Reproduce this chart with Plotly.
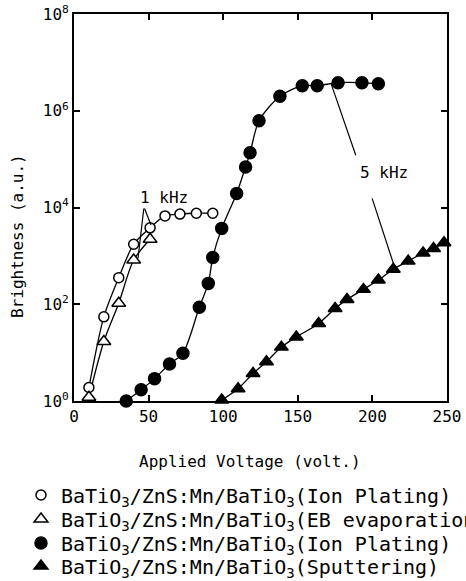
import plotly.graph_objects as go

FONT = "DejaVu Sans Mono"

# ---- data ----
ip1k_x = [10, 20, 30, 40, 51, 61, 71, 82, 93]
ip1k_y = [1.9, 55, 355, 1740, 3800, 6700, 7300, 7600, 7600]

eb1k_x = [10, 20, 30, 40, 51]
eb1k_y = [1.2, 17, 105, 820, 2200]

ip5k_x = [35, 45, 54, 64, 73, 84, 90, 93, 99, 109, 115, 118, 124, 138, 153, 163, 177, 193, 204]
ip5k_y = [1.0, 1.7, 2.9, 5.8, 9.7, 87, 270, 930, 3700, 19500, 69000, 135000, 620000,
          2.0e6, 3.3e6, 3.3e6, 3.8e6, 3.8e6, 3.6e6]

sp5k_x = [99, 110, 120, 129, 139, 149, 164, 175, 183, 194, 204, 214, 224, 234, 241, 248]
sp5k_y = [1.05, 1.8, 3.7, 6.5, 13, 21, 40, 82, 126, 203, 316, 530, 780, 1150, 1420, 1870]

x_ticks = [0, 50, 100, 150, 200, 250]
y_tickvals = [1, 1e2, 1e4, 1e6, 1e8]
y_ticktext = ["10<sup>0</sup>", "10<sup>2</sup>", "10<sup>4</sup>", "10<sup>6</sup>", "10<sup>8</sup>"]

names = [
    "BaTiO<sub>3</sub>/ZnS:Mn/BaTiO<sub>3</sub>(Ion Plating)",
    "BaTiO<sub>3</sub>/ZnS:Mn/BaTiO<sub>3</sub>(EB evaporation)",
    "BaTiO<sub>3</sub>/ZnS:Mn/BaTiO<sub>3</sub>(Ion Plating)",
    "BaTiO<sub>3</sub>/ZnS:Mn/BaTiO<sub>3</sub>(Sputtering)",
]

fig = go.Figure()

series = [
    (ip1k_x, ip1k_y, "circle", "white", 10, names[0], "legend"),
    (eb1k_x, eb1k_y, "triangle-up", "white", 12, names[1], "legend2"),
    (ip5k_x, ip5k_y, "circle", "black", 12, names[2], "legend3"),
    (sp5k_x, sp5k_y, "triangle-up", "black", 12, names[3], "legend4"),
]

for x, y, sym, fill, size, name, lg in series:
    fig.add_trace(go.Scatter(
        x=x, y=y, mode="lines",
        line=dict(color="black", width=1.3, shape="spline", smoothing=0.8),
        showlegend=False, hoverinfo="skip"))
for x, y, sym, fill, size, name, lg in series:
    fig.add_trace(go.Scatter(
        x=x, y=y, mode="markers", name=name, legend=lg, cliponaxis=False,
        marker=dict(symbol=sym, size=size, color=fill,
                    line=dict(color="black", width=1.5))))

# plot area: x 74..447 px, y 14..401 px
W, H = 466, 581
L, R, T, B = 74, 466 - 447, 14, 581 - 401
pw, ph = W - L - R, H - T - B

def px2paper_x(px):
    return (px - L) / pw

def py2paper_y(py):
    return (H - B - py) / ph

legend_rows = [495, 519, 543, 566]
legend_style = dict(
    xanchor="left", yanchor="middle", x=px2paper_x(21),
    font=dict(family=FONT, size=20, color="black"),
    bgcolor="rgba(0,0,0,0)", borderwidth=0, itemwidth=30,
)
layout_legends = {}
for i, key in enumerate(["legend", "legend2", "legend3", "legend4"]):
    layout_legends[key] = dict(legend_style, y=py2paper_y(legend_rows[i]))

axis_common = dict(
    showline=True, linewidth=2, linecolor="black", mirror="ticks",
    ticks="inside", ticklen=6, tickwidth=1.5, tickcolor="black",
    showgrid=False, zeroline=False,
    tickfont=dict(family=FONT, size=16, color="black"),
)

fig.update_layout(
    width=W, height=H,
    margin=dict(l=L, r=R, t=T, b=B, autoexpand=False),
    paper_bgcolor="white", plot_bgcolor="white",
    xaxis=dict(axis_common, range=[0, 250], tickvals=x_ticks),
    yaxis=dict(axis_common, type="log", range=[0, 8],
               tickvals=y_tickvals, ticktext=y_ticktext),
    **layout_legends,
)

ann_font = dict(family=FONT, size=16, color="black")
annotations = [
    # axis titles
    dict(text="Applied Voltage (volt.)", xref="paper", yref="paper",
         x=px2paper_x(250), y=py2paper_y(462), xanchor="center", yanchor="middle",
         showarrow=False, font=ann_font),
    dict(text="Brightness (a.u.)", xref="paper", yref="paper", textangle=-90,
         x=px2paper_x(17), y=py2paper_y(236), xanchor="center", yanchor="middle",
         showarrow=False, font=ann_font),
    # labels
    dict(text="1 kHz", x=42.9, y=4.21, xref="x", yref="y", xanchor="left",
         yanchor="middle", showarrow=False, font=ann_font),
    dict(text="5 kHz", x=190.3, y=4.73, xref="x", yref="y", xanchor="left",
         yanchor="middle", showarrow=False, font=ann_font),
]
# leader lines (y in log10 units)
leaders = [
    ((46.9, 4.01), (51.6, 3.64)),
    ((46.9, 4.01), (42.9, 2.95)),
    ((189.2, 5.05), (172.3, 6.56)),
    ((199.5, 4.22), (214.0, 2.85)),
]
for (ax0, ay0), (x1, y1) in leaders:
    annotations.append(dict(
        text="", x=x1, y=y1, ax=ax0, ay=ay0, xref="x", yref="y",
        axref="x", ayref="y", showarrow=True, arrowhead=0,
        arrowwidth=1.2, arrowcolor="black", standoff=0, startstandoff=0))

fig.update_layout(annotations=annotations)

fig.write_html("out.html")
